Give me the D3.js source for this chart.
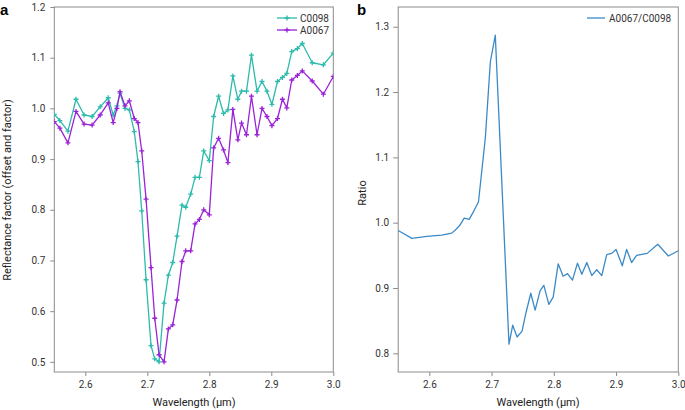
<!DOCTYPE html>
<html><head><meta charset="utf-8">
<script src="https://cdn.jsdelivr.net/npm/d3@7"></script>
<style>
html,body{margin:0;padding:0;background:#fff;}
svg{display:block;font-family:Roboto,"Liberation Sans",sans-serif;}
</style></head>
<body><svg id="chart" width="685" height="410"></svg>
<script>
// ---------- data ----------
const wavelengthA = [2.550,2.559,2.572,2.585,2.598,2.611,2.624,2.637,2.645,2.651,2.656,2.664,2.671,2.679,2.685,2.691,2.698,2.706,2.712,2.719,2.727,2.734,2.741,2.748,2.756,2.762,2.770,2.777,2.784,2.791,2.800,2.807,2.815,2.823,2.830,2.838,2.846,2.852,2.860,2.868,2.877,2.885,2.893,2.901,2.910,2.918,2.925,2.933,2.942,2.950,2.966,2.984,3.000];
const c0098 = [0.988,0.976,0.955,1.018,0.987,0.984,1.003,1.021,0.987,1.005,1.030,1.000,0.997,0.954,0.895,0.798,0.662,0.532,0.506,0.500,0.616,0.671,0.696,0.748,0.809,0.805,0.831,0.864,0.864,0.916,0.897,0.984,1.024,0.990,0.997,1.064,1.018,1.034,1.034,1.105,1.034,1.053,1.034,1.008,1.053,1.061,1.069,1.112,1.118,1.128,1.090,1.086,1.109];
const a0067 = [0.974,0.961,0.932,0.994,0.969,0.967,0.987,1.011,0.972,1.000,1.033,1.005,1.015,0.980,0.972,0.916,0.821,0.686,0.586,0.514,0.500,0.565,0.573,0.622,0.698,0.719,0.719,0.772,0.781,0.800,0.790,0.922,0.941,0.918,0.893,0.998,0.938,0.971,0.948,1.024,0.948,1.000,0.984,0.966,0.980,1.018,1.001,1.056,1.065,1.074,1.054,1.028,1.063];
const wavelengthB = [2.550,2.572,2.596,2.620,2.636,2.643,2.649,2.656,2.664,2.671,2.679,2.690,2.698,2.706,2.728,2.734,2.741,2.749,2.755,2.763,2.770,2.778,2.784,2.792,2.799,2.807,2.815,2.822,2.830,2.838,2.845,2.853,2.861,2.869,2.877,2.885,2.893,2.900,2.910,2.917,2.925,2.933,2.950,2.967,2.984,3.000];
const ratio = [0.988,0.976,0.979,0.981,0.984,0.990,0.996,1.007,1.005,1.017,1.032,1.130,1.246,1.287,0.814,0.843,0.825,0.834,0.861,0.892,0.866,0.896,0.904,0.875,0.886,0.937,0.918,0.922,0.912,0.938,0.921,0.939,0.919,0.928,0.919,0.951,0.953,0.959,0.934,0.959,0.939,0.950,0.953,0.967,0.949,0.957];
const xTicks = [2.6,2.7,2.8,2.9,3.0];
const yTicksA = [0.5,0.6,0.7,0.8,0.9,1.0,1.1,1.2];
const yTicksB = [0.8,0.9,1.0,1.1,1.2,1.3];

const TEAL = "#2dbbad", PURPLE = "#9a22d8", BLUE = "#3b8ac8";
const SPINE = "#8c8c8c", TXT = "#333";

const svg = d3.select("#chart");

function frame(g, x, y, xt, yt, tickLen, pad) {
  const [x0, x1] = x.range(), [y0, y1] = y.range();
  const ax = g.append("g").attr("transform", `translate(0,${y0})`)
    .call(d3.axisBottom(x).tickValues(xt).tickFormat(d3.format(".1f")).tickSizeOuter(0).tickSize(4).tickPadding(5));
  const ay = g.append("g").attr("transform", `translate(${x0},0)`)
    .call(d3.axisLeft(y).tickValues(yt).tickFormat(d3.format(".1f")).tickSizeOuter(0).tickSize(tickLen).tickPadding(pad));
  [ax, ay].forEach(a => {
    a.select(".domain").remove();
    a.selectAll("line").attr("stroke", SPINE);
    a.selectAll("text").attr("fill", TXT).style("font-size", "10px").style("font-family", "Roboto, sans-serif");
  });
  g.append("rect").attr("x", x0).attr("y", y1).attr("width", x1 - x0).attr("height", y0 - y1)
    .attr("fill", "none").attr("stroke", SPINE).attr("stroke-width", 1);
}

// ---------- panel a ----------
const xA = d3.scaleLinear().domain([2.55, 3.0]).range([54.3, 333.3]);
const yA = d3.scaleLinear().domain([0.48, 1.2]).range([372, 7]);
const gA = svg.append("g");
frame(gA, xA, yA, xTicks, yTicksA, 4, 5);

const clipA = svg.append("clipPath").attr("id", "clipA").append("rect")
  .attr("x", 54.3).attr("y", 0).attr("width", 279).attr("height", 380);

function series(g, xs, ys, color, x, y) {
  const pts = xs.map((w, i) => [w, ys[i]]);
  const line = d3.line().x(d => x(d[0])).y(d => y(d[1]));
  g.append("path").datum(pts).attr("d", line).attr("fill", "none")
    .attr("stroke", color).attr("stroke-width", 1.3).attr("stroke-linejoin", "round");
  g.selectAll(null).data(pts).enter().append("path")
    .attr("d", d => `M${x(d[0]) - 2.5},${y(d[1])}h5M${x(d[0])},${y(d[1]) - 2.5}v5`)
    .attr("stroke", color).attr("stroke-width", 1.3);
}
const sA = gA.append("g").attr("clip-path", "url(#clipA)");
series(sA, wavelengthA, c0098, TEAL, xA, yA);
series(sA, wavelengthA, a0067, PURPLE, xA, yA);

// legend a
[["C0098", TEAL, 18], ["A0067", PURPLE, 30]].forEach(([lab, col, yy]) => {
  gA.append("line").attr("x1", 277).attr("x2", 297).attr("y1", yy).attr("y2", yy).attr("stroke", col).attr("stroke-width", 1.3);
  gA.append("path").attr("d", `M284.5,${yy}h5M287,${yy - 2.5}v5`).attr("stroke", col).attr("stroke-width", 1.3);
  gA.append("text").attr("x", 300).attr("y", yy + 3.5).text(lab).attr("fill", TXT).style("font-size", "10px");
});

gA.append("text").attr("x", 194).attr("y", 406).attr("text-anchor", "middle").attr("fill", "#222")
  .style("font-size", "11px").text("Wavelength (μm)");
gA.append("text").attr("transform", "translate(11,190) rotate(-90)").attr("text-anchor", "middle").attr("fill", "#222")
  .style("font-size", "11px").text("Reflectance factor (offset and factor)");
gA.append("text").attr("x", 0).attr("y", 15).attr("fill", "#000").style("font-size", "15px").style("font-weight", "bold")
  .style("font-family", "'Liberation Sans', Arial, sans-serif").text("a");

// ---------- panel b ----------
const xB = d3.scaleLinear().domain([2.55, 3.0]).range([398.2, 678.3]);
const yB = d3.scaleLinear().domain([0.7714, 1.3302]).range([372, 7]);
const gB = svg.append("g");
frame(gB, xB, yB, xTicks, yTicksB, 5, 4);

const lineB = d3.line().x((d, i) => xB(wavelengthB[i])).y(d => yB(d));
gB.append("path").datum(ratio).attr("d", lineB).attr("fill", "none")
  .attr("stroke", BLUE).attr("stroke-width", 1.3).attr("stroke-linejoin", "round");

gB.append("line").attr("x1", 587).attr("x2", 605).attr("y1", 18).attr("y2", 18).attr("stroke", BLUE).attr("stroke-width", 1.3);
gB.append("text").attr("x", 609).attr("y", 21.5).text("A0067/C0098").attr("fill", TXT).style("font-size", "10px");

gB.append("text").attr("x", 538).attr("y", 406).attr("text-anchor", "middle").attr("fill", "#222")
  .style("font-size", "11px").text("Wavelength (μm)");
gB.append("text").attr("transform", "translate(366,193) rotate(-90)").attr("text-anchor", "middle").attr("fill", "#222")
  .style("font-size", "11px").text("Ratio");
gB.append("text").attr("x", 357).attr("y", 15).attr("fill", "#000").style("font-size", "15px").style("font-weight", "bold")
  .style("font-family", "'Liberation Sans', Arial, sans-serif").text("b");
</script></body></html>
